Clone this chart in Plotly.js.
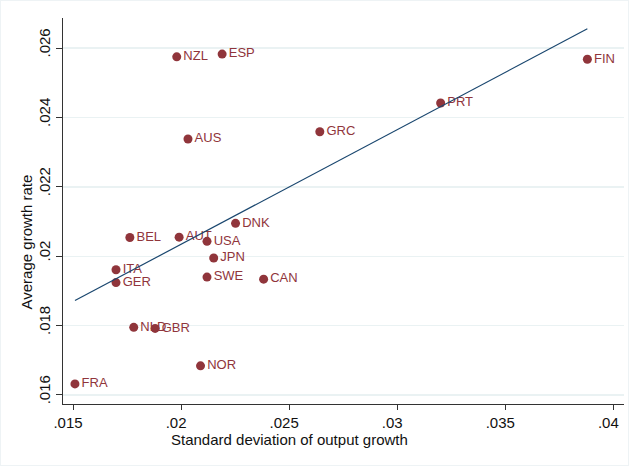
<!DOCTYPE html>
<html>
<head>
<meta charset="utf-8">
<script src="https://cdn.plot.ly/plotly-3.0.1.min.js"></script>
<style>
  html, body { margin: 0; padding: 0; background: #ffffff; }
  #frame { position: absolute; left: 0; top: 0; width: 627px; height: 464px; border: 1px solid #eef3f5; }
  #chart { position: absolute; left: 0; top: 0; width: 629px; height: 466px; }
</style>
</head>
<body>
<div id="frame"></div>
<div id="chart"></div>
<script>
// Country codes with output-growth volatility and average growth
const countries = ["FIN", "PRT", "GRC", "NZL", "ESP", "AUS", "DNK", "BEL", "AUT", "USA",
                   "JPN", "ITA", "GER", "SWE", "CAN", "NLD", "GBR", "NOR", "FRA"];
const sdGrowth  = [0.03880, 0.03201, 0.02642, 0.01980, 0.02190, 0.02032, 0.02252, 0.01763, 0.01991, 0.02120,
                   0.02151, 0.01699, 0.01699, 0.02120, 0.02382, 0.01781, 0.01880, 0.02090, 0.01509];
const avgGrowth = [0.02568, 0.02442, 0.02359, 0.02575, 0.02583, 0.02338, 0.02095, 0.02054, 0.02055, 0.02043,
                   0.01995, 0.01961, 0.01924, 0.01940, 0.01934, 0.01795, 0.01792, 0.01684, 0.01632];

// Linear fit endpoints
const fitX = [0.01509, 0.03880];
const fitY = [0.018723, 0.026558];

const xTicks = [0.015, 0.02, 0.025, 0.03, 0.035, 0.04];
const xTickText = [".015", ".02", ".025", ".03", ".035", ".04"];
const yTicks = [0.016, 0.018, 0.02, 0.022, 0.024, 0.026];
const yTickText = [".016", ".018", ".02", ".022", ".024", ".026"];

const xTitle = "Standard deviation of output growth";
const yTitle = "Average growth rate";

const markerColor = "#90353b";
const lineColor = "#1a476f";
const font = "Liberation Sans, Arial, sans-serif";
const inkColor = "#111111";

const traces = [
  {
    x: sdGrowth, y: avgGrowth, text: countries,
    type: "scatter", mode: "markers+text",
    textposition: "middle right",
    textfont: { family: font, size: 13, color: markerColor },
    marker: { color: markerColor, size: 9 },
    hoverinfo: "x+y+text"
  },
  {
    x: fitX, y: fitY, type: "scatter", mode: "lines",
    line: { color: lineColor, width: 1.2 },
    hoverinfo: "skip"
  }
];

const layout = {
  width: 629, height: 466,
  margin: { l: 63, r: 5, t: 18, b: 62 },
  paper_bgcolor: "rgba(0,0,0,0)",
  plot_bgcolor: "#ffffff",
  showlegend: false,
  font: { family: font, size: 15, color: inkColor },
  xaxis: {
    range: [0.014537, 0.040495],
    tickvals: xTicks, ticktext: xTickText,
    ticks: "outside", ticklen: 5, tickcolor: "#333333",
    ticklabelshift: -5,
    showline: true, linecolor: "#333333", linewidth: 1,
    showgrid: false, zeroline: false,
    tickfont: { family: font, size: 15, color: inkColor }
  },
  yaxis: {
    range: [0.01574, 0.02687],
    tickvals: yTicks, ticktext: yTickText, tickangle: -90,
    ticks: "outside", ticklen: 6, tickcolor: "#333333",
    ticklabelshift: -3,
    showline: true, linecolor: "#333333", linewidth: 1,
    showgrid: true, gridcolor: "#eaf2f3", gridwidth: 1.5, zeroline: false,
    tickfont: { family: font, size: 15, color: inkColor }
  },
  annotations: [
    {
      text: xTitle, xref: "paper", yref: "paper", x: 0.4029, y: -0.0925,
      xanchor: "center", yanchor: "middle", showarrow: false,
      font: { family: font, size: 15, color: inkColor }
    },
    {
      text: yTitle, xref: "paper", yref: "paper", x: -0.0642, y: 0.421,
      xanchor: "center", yanchor: "middle", textangle: -90, showarrow: false,
      font: { family: font, size: 15, color: inkColor }
    }
  ]
};

Plotly.newPlot("chart", traces, layout, { displayModeBar: false, staticPlot: true });
</script>
</body>
</html>
